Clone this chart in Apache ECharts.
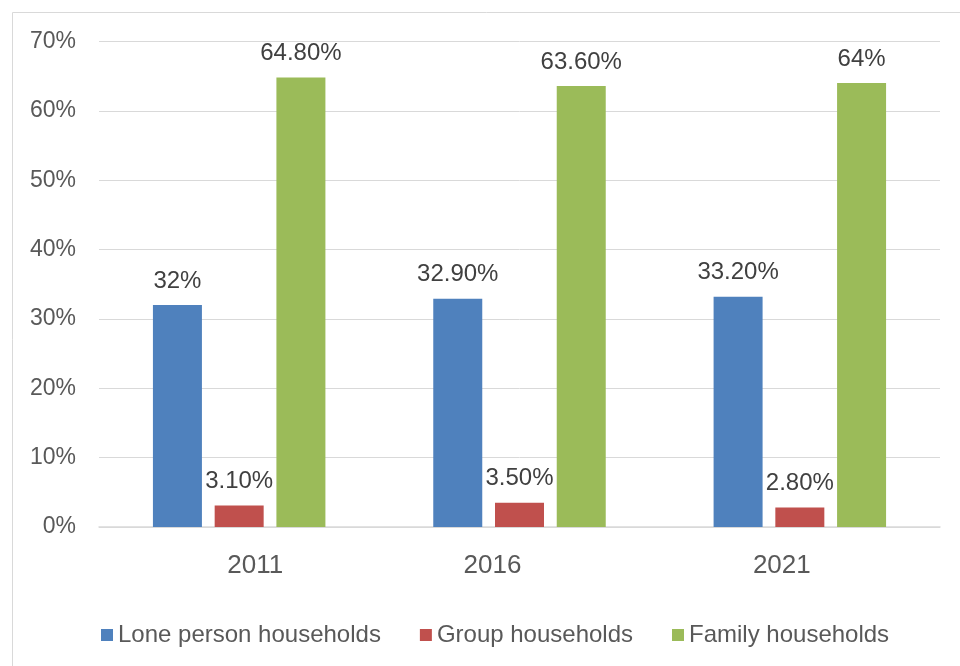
<!DOCTYPE html>
<html><head><meta charset="utf-8">
<script src="https://cdn.jsdelivr.net/npm/echarts@6/dist/echarts.min.js"></script>
<style>html,body{margin:0;padding:0;background:#fff}#c{width:960px;height:666px}</style>
</head><body><div id="c"></div>
<script>
const categories = ['2011', '2016', '2021'];
const lonePerson = [32, 32.9, 33.2];
const groupHH = [3.1, 3.5, 2.8];
const familyHH = [64.8, 63.6, 64];
const loneLabels = ['32%', '32.90%', '33.20%'];
const groupLabels = ['3.10%', '3.50%', '2.80%'];
const familyLabels = ['64.80%', '63.60%', '64%'];
const seriesNames = ['Lone person households', 'Group households', 'Family households'];

const chart = echarts.init(document.getElementById('c'));
const font = 'Liberation Sans, Arial, sans-serif';
function mk(name, data, labels, color) {
  return {
    name, type: 'bar', data, barWidth: 49, barGap: '26%',
    itemStyle: { color },
    label: { show: true, position: 'top', distance: 12, color: '#404040', fontSize: 24, fontFamily: font,
      formatter: p => labels[p.dataIndex] }
  };
}
const xRich = {
  c0: { color: '#595959', fontSize: 26, fontFamily: font, padding: [0, 0, 0, 32] },
  c1: { color: '#595959', fontSize: 26, fontFamily: font, padding: [0, 54, 0, 0] },
  c2: { color: '#595959', fontSize: 26, fontFamily: font, padding: [0, 36, 0, 0] }
};
chart.setOption({
  animation: false,
  graphic: [{ type: 'rect', shape: { x: 12.5, y: 12.5, width: 1000, height: 700 }, style: { fill: 'none', stroke: '#d9d9d9', lineWidth: 1 }, silent: true, z: -1 }],
  grid: { left: 99, right: 20, top: 41.5, bottom: 139, containLabel: false },
  legend: {
    top: 618, left: 96, itemWidth: 12, itemHeight: 12, itemGap: 39, icon: 'rect',
    textStyle: { color: '#595959', fontSize: 24, fontFamily: font },
    data: seriesNames
  },
  xAxis: {
    type: 'category', data: categories,
    axisLine: { lineStyle: { color: '#d9d9d9', width: 1.5 } },
    axisTick: { show: false },
    axisLabel: { color: '#595959', fontSize: 26, fontFamily: font, margin: 26,
      formatter: (v, i) => '{c' + i + '|' + v + '}', rich: xRich }
  },
  yAxis: {
    type: 'value', min: 0, max: 70, interval: 10,
    axisLabel: { formatter: '{value}%', color: '#595959', fontSize: 23, fontFamily: font, margin: 23 },
    splitLine: { lineStyle: { color: '#d9d9d9', width: 1 } },
    axisLine: { show: false }, axisTick: { show: false }
  },
  series: [
    mk(seriesNames[0], lonePerson, loneLabels, '#4f81bd'),
    mk(seriesNames[1], groupHH, groupLabels, '#c0504d'),
    mk(seriesNames[2], familyHH, familyLabels, '#9bbb59')
  ]
});
</script></body></html>
